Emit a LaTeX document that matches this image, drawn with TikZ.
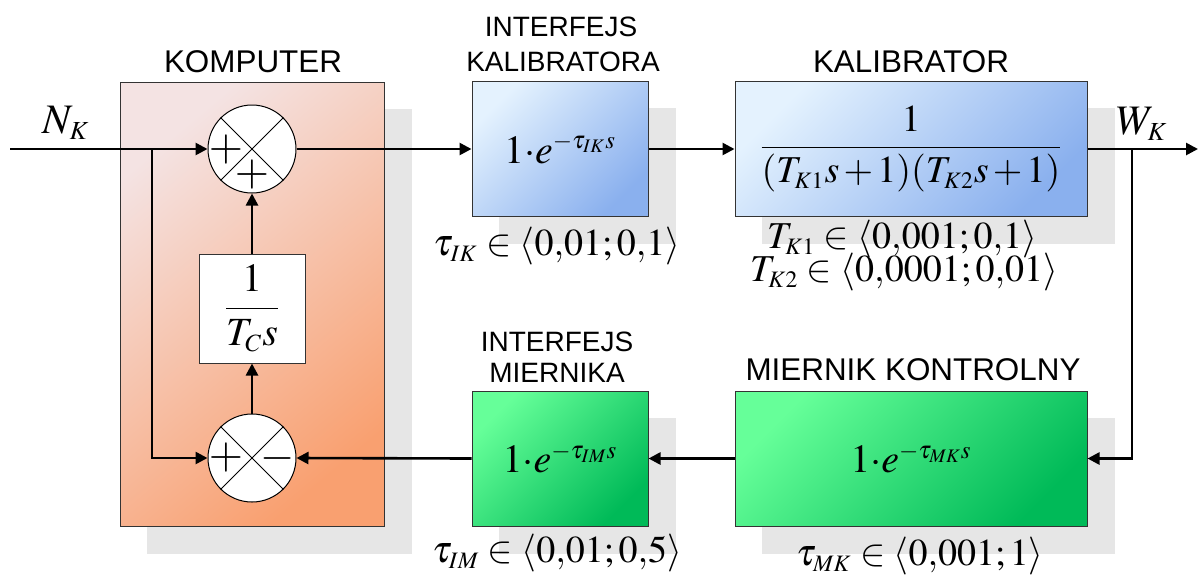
\documentclass[tikz,border=0pt]{standalone}
\usepackage{amsmath}
\usepackage{mathptmx}
\usepackage[no-math]{fontspec}
\setsansfont{Liberation Sans}
\usetikzlibrary{arrows.meta,backgrounds}
\makeatletter
\def\defaultscriptratio{.62}
\def\defaultscriptscriptratio{.48}
\makeatother
\definecolor{shadowc}{HTML}{E6E6E6}
\definecolor{blueA}{HTML}{E4F2FE}
\definecolor{blueB}{HTML}{8AB0EE}
\definecolor{greenA}{HTML}{66FF99}
\definecolor{greenB}{HTML}{00BA58}
\definecolor{orA}{HTML}{F4E3E3}
\definecolor{orB}{HTML}{F9A070}
\newcommand{\mf}{\fontsize{20}{24}\selectfont\medmuskip=2mu\thickmuskip=4mu}
\newcommand{\mfs}{\fontsize{19}{22}\selectfont\medmuskip=2mu\thickmuskip=4mu}
\tikzset{
  blockbox/.style={draw=black!80, line width=0.5pt, inner sep=0pt},
  bluebox/.style={blockbox, top color=blueA, bottom color=blueB, shading angle=45},
  greenbox/.style={blockbox, top color=greenA, bottom color=greenB, shading angle=45},
  compbox/.style={blockbox, top color=orA, bottom color=orB, shading angle=40},
  sumc/.style={circle, draw=black, line width=0.5pt, fill=white, minimum size=44pt, inner sep=0pt},
  conn/.style={line width=1.3pt, -{Triangle[length=6pt,width=6pt]}},
  title/.style={font=\sffamily\fontsize{15.7}{18}\selectfont, inner sep=0pt},
  titlesm/.style={font=\sffamily\fontsize{14}{16}\selectfont, inner sep=0pt},
  mathlbl/.style={font=\mf, inner sep=0pt},
  parlbl/.style={font=\mfs, inner sep=0pt},
  sign/.style={font=\fontsize{22}{22}\selectfont, inner sep=0pt}
}
\begin{document}
\begin{tikzpicture}[x=0.5pt,y=-0.5pt]
\useasboundingbox (0,0) rectangle (1198,579);
% blocks
\node[compbox, minimum width=132pt, minimum height=222pt] (komp) at (252,304) {};
\node[bluebox, minimum width=88pt, minimum height=67.5pt] (ik) at (560,149) {};
\node[bluebox, minimum width=176pt, minimum height=67.5pt] (kal) at (911,149) {};
\node[greenbox, minimum width=88pt, minimum height=67.5pt] (im) at (560,458.5) {};
\node[greenbox, minimum width=176pt, minimum height=67.5pt] (mk) at (911,458.5) {};
\node[draw=black!80, line width=0.5pt, fill=white, minimum width=53pt, minimum height=54.5pt, inner sep=0pt, font=\mf] (tc) at (252,308.5) {$\dfrac{1}{T_C s}$};
% shadows
\begin{scope}[on background layer]
\foreach \n in {komp,ik,kal,im,mk}{
  \fill[shadowc] ([shift={(27,27)}]\n.north west) rectangle ([shift={(27,27)}]\n.south east);
}
\end{scope}
% formulas
\node[mathlbl] (fik) at (ik.center) {$1{\cdot}e^{-\tau_{IK}s}$};
\node[parlbl] (fkal) at (kal.center) {$\dfrac{1}{(T_{K1}s+1)(T_{K2}s+1)}$};
\node[mathlbl] (fim) at (im.center) {$1{\cdot}e^{-\tau_{IM}s}$};
\node[mathlbl] (fmk) at (mk.center) {$1{\cdot}e^{-\tau_{MK}s}$};
% summing junctions
\node[sumc] (s1) at (252,149) {};
\node[sumc] (s2) at (252,458) {};
\draw[line width=0.5pt] (s1.45) -- (s1.225) (s1.135) -- (s1.315);
\draw[line width=0.5pt] (s2.45) -- (s2.225) (s2.135) -- (s2.315);
\node[sign] (p1) at (226,150) {$+$};
\node[sign] (p2) at (252,175) {$+$};
\node[sign] (p3) at (226,458) {$+$};
\node[sign] (m1) at (278,458) {$-$};
% titles
\node[title] (tkomp) at (253,62) {KOMPUTER};
\node[titlesm] (tik1) at (561,27) {INTERFEJS};
\node[titlesm] (tik2) at (563,62) {KALIBRATORA};
\node[title] (tkal) at (911,62) {KALIBRATOR};
\node[titlesm] (tim1) at (557,342) {INTERFEJS};
\node[titlesm] (tim2) at (557,373) {MIERNIKA};
\node[title] (tmk) at (913,370) {MIERNIK KONTROLNY};
% parameter labels
\node[parlbl] (lik) at (557,246) {$\tau_{IK}\in\left\langle 0{,}01;0{,}1\right\rangle$};
\node[parlbl] (lk1) at (902,239) {$T_{K1}\in\left\langle 0{,}001;0{,}1\right\rangle$};
\node[parlbl] (lk2) at (904,272) {$T_{K2}\in\left\langle 0{,}0001;0{,}01\right\rangle$};
\node[parlbl] (lim) at (557,553) {$\tau_{IM}\in\left\langle 0{,}01;0{,}5\right\rangle$};
\node[parlbl] (lmk) at (920,556) {$\tau_{MK}\in\left\langle 0{,}001;1\right\rangle$};
\node[mathlbl, font=\fontsize{21}{24}\selectfont] (nk) at (66,123) {$N_K$};
\node[mathlbl, font=\fontsize{21}{24}\selectfont] (wk) at (1142,124) {$W_K$};
% connectors
\coordinate (in) at (10,149);
\coordinate (b1) at (152,149);
\coordinate (out) at (1198,149);
\coordinate (b2) at (1132,149);
\draw[conn] (in) -- (s1.west);
\draw[conn] (b1) |- (s2.west);
\draw[conn] (s1.east) -- (ik.west);
\draw[conn] (ik.east) -- (kal.west);
\draw[conn] (kal.east) -- (out);
\draw[conn] (b2) |- (mk.east);
\draw[conn] (mk.west) -- (im.east);
\draw[conn] (im.west) -- (s2.east);
\draw[conn] (s2.north) -- (tc.south);
\draw[conn] (tc.north) -- (s1.south);
\end{tikzpicture}
\end{document}
